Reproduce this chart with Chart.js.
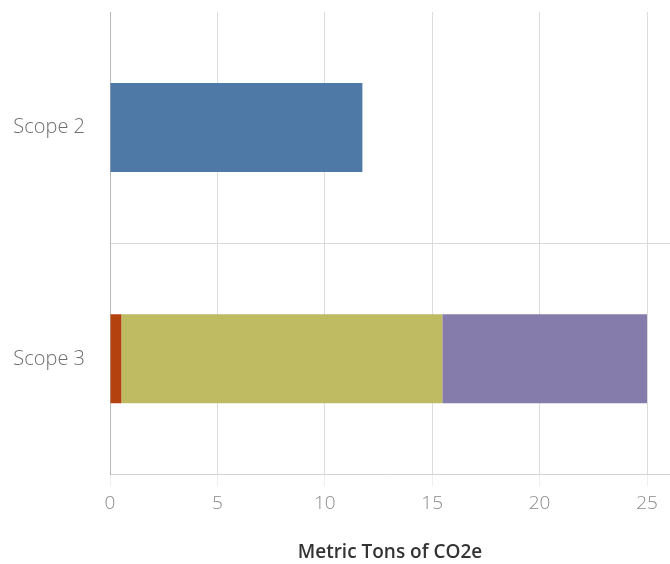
<!DOCTYPE html>
<html>
<head>
<meta charset="utf-8">
<script src="https://cdn.jsdelivr.net/npm/chart.js@4"></script>
<style>
  html, body { margin: 0; padding: 0; background: #fff; }
  #wrap { width: 670px; height: 564px; position: relative; }
</style>
</head>
<body>
<div id="wrap"><canvas id="emissionsChart"></canvas></div>
<script>
// Chart data
const categories = ['Scope 2', 'Scope 3'];
const electricity = [11.75, 0];
const segmentRed = [0, 0.53];
const segmentOlive = [0, 14.94];
const segmentPurple = [0, 9.53];
const xTicks = [0, 5, 10, 15, 20, 25];

const fontFamily = '"Open Sans", "Noto Sans", sans-serif';

new Chart(document.getElementById('emissionsChart'), {
    type: 'bar',
    data: {
        labels: categories,
        datasets: [
            { label: 'Electricity', data: electricity, backgroundColor: '#4e79a7' },
            { label: 'Segment A', data: segmentRed, backgroundColor: '#b3420f' },
            { label: 'Segment B', data: segmentOlive, backgroundColor: '#bfbb63' },
            { label: 'Segment C', data: segmentPurple, backgroundColor: '#857cac' }
        ]
    },
    options: {
        indexAxis: 'y',
        responsive: true,
        maintainAspectRatio: false,
        animation: false,
        layout: { padding: { top: 12, right: 0, left: 0, bottom: 0 } },
        datasets: {
            bar: { categoryPercentage: 1, barPercentage: 0.385, borderSkipped: false }
        },
        plugins: {
            legend: { display: false },
            tooltip: { enabled: false }
        },
        scales: {
            x: {
                stacked: true,
                min: 0,
                max: 26.07,
                afterBuildTicks: function(scale) {
                    scale.ticks = xTicks.map(v => ({ value: v }));
                },
                grid: {
                    color: '#dcdcdc',
                    lineWidth: 1,
                    tickLength: 12,
                    tickColor: '#f0f0f0'
                },
                border: { color: '#d4d4d4' },
                ticks: {
                    color: '#8a8a8a',
                    font: { family: fontFamily, size: 19, weight: '300' },
                    padding: 6
                },
                title: {
                    display: true,
                    text: 'Metric Tons of CO2e',
                    color: '#333',
                    font: { family: fontFamily, size: 19, weight: '600' },
                    padding: { top: 20, bottom: 0 }
                }
            },
            y: {
                stacked: true,
                afterFit: function(scale) {
                    scale.width = 110;
                    scale.paddingTop = 0;
                    scale.paddingBottom = 0;
                },
                grid: {
                    offset: true,
                    drawTicks: false,
                    color: function(ctx) {
                        return ctx.index === 1 ? '#d9d9d9' : 'rgba(0,0,0,0)';
                    }
                },
                border: { color: '#b8b8b8' },
                ticks: {
                    color: '#6e6e6e',
                    font: { family: fontFamily, size: 20, weight: '300' },
                    padding: 25
                }
            }
        }
    }
});
</script>
</body>
</html>
